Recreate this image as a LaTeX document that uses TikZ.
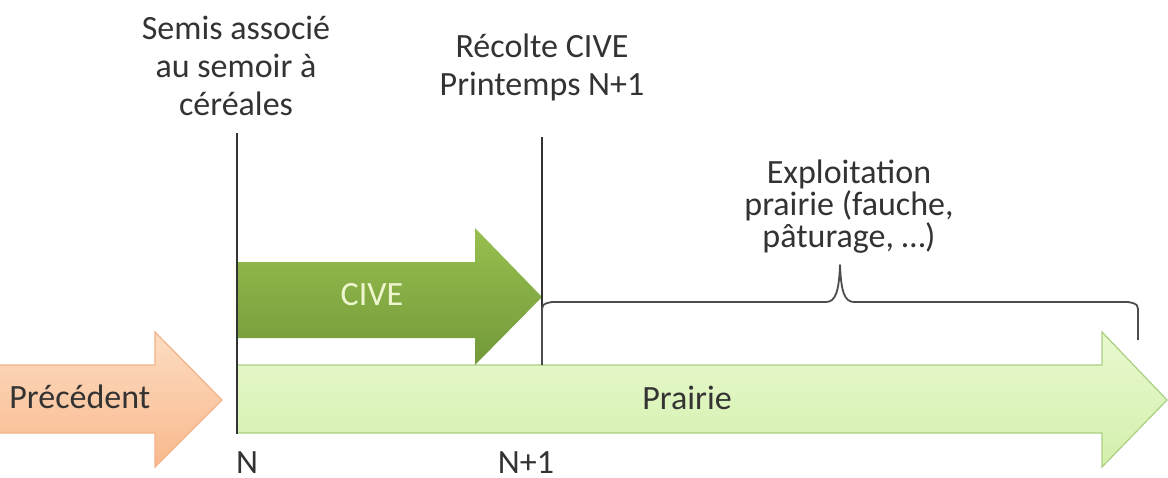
\documentclass[tikz,border=0pt]{standalone}
\usepackage{fontspec}
\setmainfont{Carlito}
\definecolor{txt}{HTML}{333333}
\definecolor{peachA}{HTML}{FDDCC2}
\definecolor{peachB}{HTML}{F8B98C}
\definecolor{peachLine}{HTML}{F3B287}
\definecolor{meadowA}{HTML}{E8F9CF}
\definecolor{meadowB}{HTML}{D4EFAD}
\definecolor{meadowLine}{HTML}{A9D081}
\definecolor{civeA}{HTML}{98BF4E}
\definecolor{civeB}{HTML}{72993A}
\definecolor{civeText}{HTML}{EEF6CF}
\begin{document}
\begin{tikzpicture}[x=0.5pt,y=-0.5pt,
  lbl/.style={font=\fontsize{17}{19}\selectfont, text=txt, inner sep=0pt, align=center},
  tick/.style={draw=black!80, line width=0.8pt},
  brace/.style={draw=black!70, line width=0.9pt, line join=round}]
\useasboundingbox (0,0) rectangle (1168,477);

% block arrows
\path[top color=peachA, bottom color=peachB, draw=peachLine, line width=0.6pt]
  (-2,365) -- (155,365) -- (155,332) -- (222,400) -- (155,467) -- (155,433) -- (-2,433) -- cycle;
\path[top color=meadowA, bottom color=meadowB, draw=meadowLine, line width=0.6pt]
  (237,365) -- (1102,365) -- (1102,332) -- (1167,400) -- (1102,467) -- (1102,433) -- (237,433) -- cycle;
\path[top color=civeA, bottom color=civeB]
  (237,262) -- (475,262) -- (475,228) -- (542,297) -- (475,365) -- (475,338) -- (237,338) -- cycle;

% time markers
\coordinate (nTop) at (237,133);
\coordinate (nBot) at (237,434);
\coordinate (hTop) at (542,137);
\coordinate (hBot) at (542,365);
\draw[tick] (nTop) -- (nBot);
\draw[tick] (hTop) -- (hBot);

% brace over the grazing period
\coordinate (bL) at (542,365);
\coordinate (bR) at (1138,340);
\coordinate (bTip) at (840,265);
\draw[brace] (bL) -- (542,314) .. controls (542,304) .. (552,302) -- (826,302)
  .. controls (836,302) and (839,290) .. (bTip)
  .. controls (841,290) and (844,302) .. (854,302) -- (1128,302)
  .. controls (1138,304) .. (1138,314) -- (bR);

% labels (multi-line nodes are placed by the baseline of their last line)
\node[lbl, anchor=base] (semis) at (236,115) {Semis associé\\au semoir à\\céréales};
\node[lbl, anchor=base] (recolte) at (542,95) {Récolte CIVE\\Printemps N+1};
\node[lbl, anchor=base, font=\fontsize{17}{16}\selectfont] (exploit) at (849,247) {Exploitation\\prairie (fauche,\\pâturage, …)};
\node[lbl, anchor=base west] (prec) at (9,408) {Précédent};
\node[lbl, anchor=base, text=civeText] (cive) at (372,305) {CIVE};
\node[lbl, anchor=base] (prairie) at (687,409) {Prairie};
\node[lbl, anchor=base] (n0) at (247,473) {N};
\node[lbl, anchor=base] (n1) at (526,473) {N+1};
\end{tikzpicture}
\end{document}
